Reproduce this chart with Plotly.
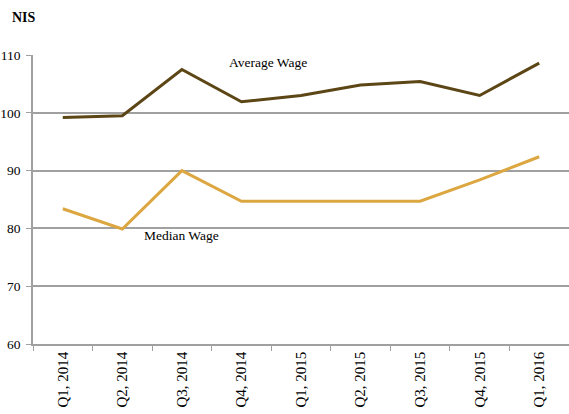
import plotly.graph_objects as go

quarters = ["Q1, 2014", "Q2, 2014", "Q3, 2014", "Q4, 2014", "Q1, 2015",
            "Q2, 2015", "Q3, 2015", "Q4, 2015", "Q1, 2016"]
average_wage = [99.2, 99.5, 107.5, 101.9, 103.0, 104.8, 105.4, 103.0, 108.6]
median_wage = [83.4, 79.9, 90.0, 84.7, 84.7, 84.7, 84.7, 88.4, 92.4]
y_ticks = [60, 70, 80, 90, 100, 110]

font_family = "Liberation Serif, Times New Roman, serif"

fig = go.Figure()
fig.add_trace(go.Scatter(x=quarters, y=average_wage, mode="lines", name="Average Wage",
                         line=dict(color="#5c4616", width=3)))
fig.add_trace(go.Scatter(x=quarters, y=median_wage, mode="lines", name="Median Wage",
                         line=dict(color="#dca640", width=3)))

fig.update_layout(
    width=569, height=414,
    margin=dict(l=33, r=0, t=55, b=70, autoexpand=False),
    plot_bgcolor="white", paper_bgcolor="white",
    showlegend=False,
    font=dict(family=font_family, size=14, color="black"),
    xaxis=dict(type="category", range=[-0.5, 8.5], showgrid=False, automargin=False,
               showline=True, linecolor="#a0a0a0", linewidth=1.5,
               ticks="outside", tickson="boundaries", ticklen=5, tickcolor="#a0a0a0",
               tickangle=-90, tickfont=dict(family=font_family, size=15)),
    yaxis=dict(range=[60, 110], tickvals=y_ticks, showgrid=True, automargin=False,
               gridcolor="#a0a0a0", gridwidth=1.5,
               showline=True, linecolor="#a0a0a0", linewidth=1.5,
               ticks="outside", ticklen=5, tickcolor="#a0a0a0",
               ticklabelstandoff=3,
               zeroline=False, tickfont=dict(family=font_family, size=13.5)),
    annotations=[
        dict(text="<b>NIS</b>", xref="paper", yref="paper", x=-0.043, y=1.131,
             xanchor="left", yanchor="middle", showarrow=False,
             font=dict(family=font_family, size=14)),
        dict(text="Average Wage", xref="x", yref="y", x=3.45, y=108.7,
             xanchor="center", yanchor="middle", showarrow=False,
             font=dict(family=font_family, size=13.5)),
        dict(text="Median Wage", xref="x", yref="y", x=2.0, y=78.7,
             xanchor="center", yanchor="middle", showarrow=False,
             font=dict(family=font_family, size=13.5)),
    ],
)

fig.write_html("out.html", config={"displayModeBar": False},
               post_script="document.body.style.margin='0';")
